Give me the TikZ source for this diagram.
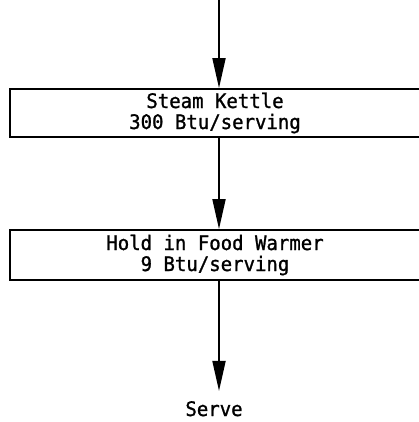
\documentclass[tikz,border=0pt]{standalone}
\usepackage{fontspec}
\newfontfamily\typefont[FakeStretch=0.95,FakeBold=1.2]{DejaVu Sans Mono}
\usepackage{tikz}
\usetikzlibrary{arrows.meta}
\tikzstyle{stage}=[rectangle,draw=black,line width=1.8pt,inner sep=0mm,minimum width=410pt,minimum height=48pt,align=center,font=\typefont\fontsize{20}{21}\selectfont]
\tikzstyle{label}=[inner sep=0mm,font=\typefont\fontsize{20}{21}\selectfont]
\tikzstyle{arrow}=[-{Triangle[length=30pt,width=13pt]},line width=1.8pt]

\begin{document}
\begin{tikzpicture}[x=1pt,y=-1pt]
      \useasboundingbox (0,0) rectangle (419,422);
      \clip (0,0) rectangle (419,422);
      \coordinate (top) at (219,0);
      \node[stage] at (215,113) (kettle) {Steam Kettle\\300 Btu/serving};
      \node[stage,minimum height=50pt] at (215,255) (warmer) {Hold in Food Warmer\\9 Btu/serving};
      \node[label,anchor=base] at (214,416) (serve) {Serve};
      \draw[arrow] (top) -- (top |- kettle.north);
      \draw[arrow] (top |- kettle.south) -- (top |- warmer.north);
      \draw[arrow] (top |- warmer.south) -- ([yshift=10pt]top |- serve.north);
    \end{tikzpicture}
\end{document}
